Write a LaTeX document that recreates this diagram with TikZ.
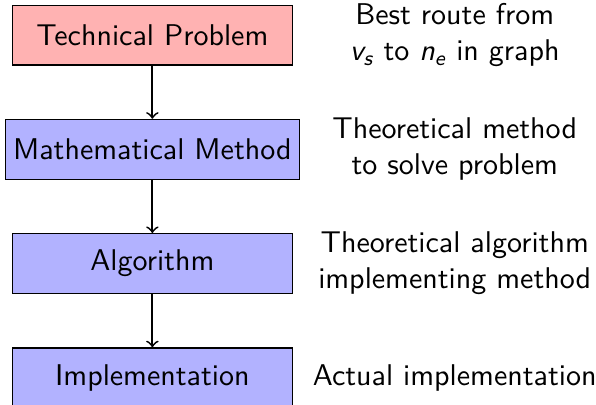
\documentclass[tikz,border=0pt]{standalone}
\usepackage{amsmath}
\usetikzlibrary{positioning,calc}

\begin{document}
\begin{tikzpicture}[font=\sffamily,
    stage/.style={rectangle, draw, minimum width=93.3pt, minimum height=20pt, inner xsep=2.6pt},
    desc/.style={align=center},
    link/.style={->, semithick},
    node distance=17.7pt]
    % frame of the picture
    \useasboundingbox (0,0) rectangle (198.7pt,135pt);
    \node [stage, fill=red!30] (tp) at (50.8pt,123.3pt) {Technical Problem};
    \node [stage, fill=blue!30, below=of tp] (mm) {Mathematical Method};
    \node [stage, fill=blue!30, below=of mm] (alg) {Algorithm};
    \node [stage, fill=blue!30, below=of alg] (impl) {Implementation};
    \draw [link] (tp) -- (mm);
    \draw [link] (mm) -- (alg);
    \draw [link] (alg) -- (impl);
    \node [desc] (dtp) at ([xshift=100.8pt]tp.center)
      {Best route from\\ $\textsl{v}_{\textsl{s}}$ to $\textsl{n}_{\textsl{e}}$ in graph};
    \node [desc] (dmm) at ([xshift=100.8pt]mm.center)
      {Theoretical method\\ to solve problem};
    \node [desc] (dalg) at ([xshift=100.8pt]alg.center)
      {Theoretical algorithm\\ implementing method};
    \node [desc] (dimpl) at ([xshift=100.8pt]impl.center)
      {Actual implementation};
\end{tikzpicture}
\end{document}
